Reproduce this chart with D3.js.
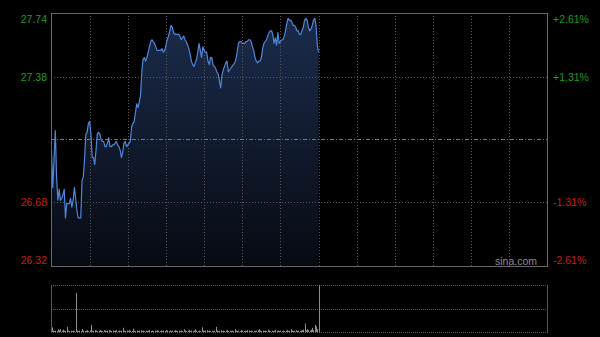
<!DOCTYPE html>
<html><head><meta charset="utf-8">
<script src="https://cdn.jsdelivr.net/npm/d3@7"></script>
<style>html,body{margin:0;padding:0;background:#000;}svg{display:block;}</style>
</head><body>
<svg id="c" width="600" height="337"></svg>
<script>
// ---- data ----
const sessionMinutes = 390; // 09:30 - 16:00
const gridMinutes = [30,60,90,120,150,180,210,240,270,300,330,360];
const prevClose = 27.03;
const priceTicks = [27.74, 27.38, 26.68, 26.32];
const priceTickLabels = ["27.74", "27.38", "26.68", "26.32"];
const pctTickLabels = ["+2.61%", "+1.31%", "-1.31%", "-2.61%"];
const prices = [
26.97,26.76,26.92,27.08,26.82,26.69,26.75,26.69,26.70,26.72,
26.75,26.59,26.67,26.67,26.67,26.70,26.65,26.69,26.76,26.70,
26.63,26.59,26.59,26.59,26.80,26.82,26.92,27.06,27.07,27.12,
27.13,27.06,26.93,26.93,26.89,26.97,27.06,27.07,27.06,27.03,
27.02,27.02,26.99,26.99,27.01,27.04,26.99,26.99,27.00,27.00,
27.01,27.02,27.00,26.99,26.97,26.93,26.96,27.01,27.02,26.99,
27.00,27.01,27.02,27.10,27.12,27.13,27.18,27.23,27.21,27.24,
27.28,27.41,27.48,27.49,27.47,27.49,27.52,27.55,27.58,27.59,
27.58,27.57,27.55,27.53,27.53,27.53,27.53,27.54,27.52,27.53,
27.56,27.59,27.61,27.64,27.67,27.66,27.63,27.62,27.62,27.62,
27.62,27.61,27.59,27.60,27.61,27.59,27.58,27.56,27.54,27.51,
27.47,27.45,27.44,27.46,27.48,27.52,27.57,27.53,27.49,27.55,
27.53,27.52,27.52,27.47,27.45,27.49,27.49,27.45,27.44,27.43,
27.41,27.40,27.36,27.32,27.39,27.42,27.44,27.46,27.47,27.41,
27.42,27.43,27.44,27.45,27.46,27.48,27.52,27.57,27.58,27.58,
27.57,27.57,27.57,27.58,27.58,27.59,27.59,27.58,27.55,27.53,
27.49,27.47,27.46,27.47,27.47,27.49,27.54,27.57,27.58,27.59,
27.61,27.63,27.64,27.64,27.62,27.57,27.60,27.56,27.63,27.57,
27.58,27.59,27.59,27.61,27.64,27.68,27.71,27.70,27.70,27.69,
27.67,27.67,27.66,27.64,27.64,27.62,27.62,27.64,27.66,27.70,
27.71,27.70,27.66,27.64,27.65,27.67,27.70,27.71,27.67,27.56,
27.52
];
const volumes = [
10,3,2,3,2,6,4,6,3,5,
3,2,11,3,2,3,2,3,2,83,
3,2,3,2,6,3,2,3,4,2,
3,15,3,2,4,3,2,3,4,3,
2,4,3,2,3,4,3,2,3,2,
3,4,2,3,2,3,9,3,2,3,
2,4,3,2,7,3,2,3,2,3,
4,2,3,2,3,2,3,4,2,3,
2,3,2,4,3,2,3,2,3,2,
4,3,2,3,2,3,2,4,3,2,
3,2,3,2,6,3,2,3,4,2,
3,2,3,6,3,2,3,2,10,3,
2,3,4,2,3,2,3,2,3,11,
3,2,3,4,2,3,2,3,4,2,
3,2,3,2,6,3,2,3,2,4,
3,2,3,2,4,3,2,3,2,3,
2,3,4,6,3,2,3,2,3,2,
5,3,2,3,2,3,4,2,3,2,
3,2,3,2,3,4,2,3,6,3,
2,3,4,2,3,2,3,4,5,18,
3,6,4,3,5,9,4,15,12,6,
100
];
const watermark = "sina.com";

// ---- layout ----
const svg = d3.select("#c");
const L = 51, R = 548, T = 13, B = 266;
const VT = 285, VB = 332;
const green = "#1f9a1f", red = "#cc1c12";

const x = d3.scaleLinear().domain([0, sessionMinutes]).range([L + 0.5, R - 0.5]);
const y = d3.scaleLinear().domain([26.32, 27.74]).range([B, T]);
const yv = d3.scaleLinear().domain([0, d3.max(volumes)]).range([VB, VT]);

svg.append("rect").attr("width", 600).attr("height", 337).attr("fill", "#000");

// gradient
const defs = svg.append("defs");
const grad = defs.append("linearGradient").attr("id", "g").attr("gradientUnits", "userSpaceOnUse")
  .attr("x1", 0).attr("y1", T).attr("x2", 0).attr("y2", B);
grad.append("stop").attr("offset", 0).attr("stop-color", "#1b2c4c");
grad.append("stop").attr("offset", 1).attr("stop-color", "#070a12");

// area
const pts = prices.map((p, i) => [i, p]);
svg.append("path").datum(pts)
  .attr("d", d3.area().x(d => x(d[0])).y0(B).y1(d => y(d[1])))
  .attr("fill", "url(#g)");

// vertical grid (main)
const gMain = svg.append("g");
gMain.selectAll("line.vg").data(gridMinutes).join("line")
  .attr("x1", d => Math.round(x(d)) + 0.5).attr("x2", d => Math.round(x(d)) + 0.5)
  .attr("y1", T).attr("y2", B)
  .attr("stroke", "#5a5a5a").attr("stroke-dasharray", "1,2");

// horizontal grid
gMain.selectAll("line.hg").data([27.38, 26.68]).join("line")
  .attr("x1", L).attr("x2", R)
  .attr("y1", d => Math.round(y(d)) + 0.5).attr("y2", d => Math.round(y(d)) + 0.5)
  .attr("stroke", "#5a5a5a").attr("stroke-dasharray", "1,2");

// prev close line (dash-dot)
svg.append("line").attr("x1", L).attr("x2", R)
  .attr("y1", Math.round(y(prevClose)) + 0.5).attr("y2", Math.round(y(prevClose)) + 0.5)
  .attr("stroke", "#777").attr("stroke-dasharray", "4,2,1,2");

svg.append("path").datum(pts)
  .attr("d", d3.line().x(d => x(d[0])).y(d => y(d[1])))
  .attr("fill", "none").attr("stroke", "#4f86da").attr("stroke-width", 1.2)
  .attr("stroke-linejoin", "round");

// main border
svg.append("rect").attr("x", L + 0.5).attr("y", T + 0.5).attr("width", R - L - 1).attr("height", B - T)
  .attr("fill", "none").attr("stroke", "#666");

// labels
const fontFam = "Arial, 'Liberation Sans', sans-serif";
const labelY = (v, i) => i === 0 ? y(v) + 6 : (i === priceTicks.length - 1 ? y(v) - 6 : y(v));
svg.selectAll("text.lt").data(priceTicks).join("text")
  .attr("x", 47).attr("y", (d, i) => labelY(d, i)).attr("dy", "0.36em")
  .attr("text-anchor", "end").attr("font-family", fontFam).attr("font-size", 10.5)
  .attr("fill", d => d > prevClose ? green : red)
  .text((d, i) => priceTickLabels[i]);
svg.selectAll("text.rt").data(priceTicks).join("text")
  .attr("x", 553).attr("y", (d, i) => labelY(d, i)).attr("dy", "0.36em")
  .attr("text-anchor", "start").attr("font-family", fontFam).attr("font-size", 10.5)
  .attr("fill", d => d > prevClose ? green : red)
  .text((d, i) => pctTickLabels[i]);

svg.append("text").attr("x", 537).attr("y", 265).attr("text-anchor", "end")
  .attr("font-family", fontFam).attr("font-size", 10.5).attr("fill", "#8a8a8a").text(watermark);

// volume panel
const gv = svg.append("g");
[VT, (VT + VB) / 2, VB].forEach(v => {
  gv.append("line").attr("x1", L).attr("x2", R)
    .attr("y1", Math.round(v) + 0.5).attr("y2", Math.round(v) + 0.5)
    .attr("stroke", "#5a5a5a").attr("stroke-dasharray", "1,1");
});
[L, R - 1].forEach(v => {
  gv.append("line").attr("x1", v + 0.5).attr("x2", v + 0.5).attr("y1", VT).attr("y2", VB + 1)
    .attr("stroke", "#555");
});
gv.selectAll("line.vb").data(volumes).join("line")
  .attr("x1", (d, i) => Math.round(x(i)) + 0.5).attr("x2", (d, i) => Math.round(x(i)) + 0.5)
  .attr("y1", VB).attr("y2", d => yv(d))
  .attr("stroke", "#8c8c8c").attr("stroke-width", 1);
</script>
</body></html>
